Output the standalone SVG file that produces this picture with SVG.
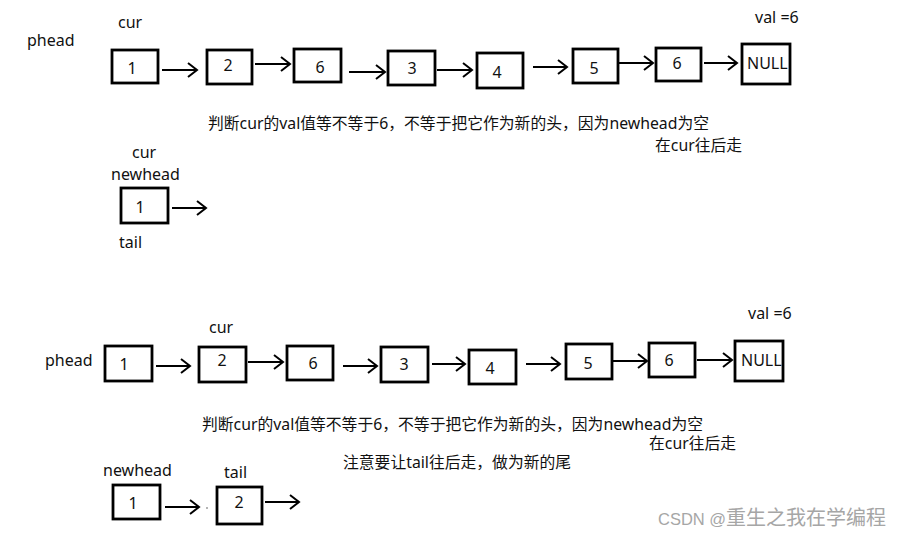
<svg xmlns="http://www.w3.org/2000/svg" width="904" height="538" viewBox="0 0 904 538">
<style>
.box{fill:#fff;stroke:#000;stroke-width:2.8}
.lbl{font-family:"Noto Sans","Noto Sans CJK SC",sans-serif;font-size:16px;fill:#111}
.num{font-family:"Noto Sans","Noto Sans CJK SC",sans-serif;font-size:16px;fill:#111;text-anchor:middle}
.zh{font-family:"Noto Sans","Noto Sans CJK SC",sans-serif;font-size:15.8px;fill:#111}
.arr{stroke:#000;stroke-width:2.2;fill:none;marker-end:url(#ah)}
.wm{font-family:"Liberation Sans","Noto Sans CJK SC",sans-serif;fill:#a6a6a6}
</style>
<defs>
<marker id="ah" markerUnits="userSpaceOnUse" markerWidth="14" markerHeight="18" refX="11" refY="8" orient="auto" overflow="visible">
<path d="M2,1 L11,8 L2,15" fill="none" stroke="#000" stroke-width="2"/>
</marker>
</defs>
<rect width="904" height="538" fill="#fff"/>

<!-- Top section -->
<g id="top-labels">
<text class="lbl" x="118" y="28">cur</text>
<text class="lbl" x="27" y="46">phead</text>
<text class="lbl" x="755" y="23">val =6</text>
</g>
<g id="t-n1"><rect class="box" x="112" y="50" width="46" height="33"/><text class="num" x="132" y="74">1</text></g>
<g id="t-n2"><rect class="box" x="207" y="50" width="45" height="34"/><text class="num" x="228" y="71">2</text></g>
<g id="t-n3"><rect class="box" x="294" y="49" width="47" height="33"/><text class="num" x="320" y="73">6</text></g>
<g id="t-n4"><rect class="box" x="388" y="51" width="47" height="34"/><text class="num" x="412" y="74">3</text></g>
<g id="t-n5"><rect class="box" x="477" y="53" width="46" height="35"/><text class="num" x="497" y="78">4</text></g>
<g id="t-n6"><rect class="box" x="573" y="49" width="45" height="34"/><text class="num" x="594" y="74">5</text></g>
<g id="t-n7"><rect class="box" x="656" y="48" width="45" height="33"/><text class="num" x="677" y="69">6</text></g>
<g id="t-null"><rect class="box" x="742" y="44" width="48" height="40"/><text class="lbl" x="747" y="69">NULL</text></g>
<text class="zh" x="208" y="129">判断cur的val值等不等于6，不等于把它作为新的头，因为newhead为空</text>
<text class="zh" x="655" y="151">在cur往后走</text>

<!-- Middle section -->
<g id="m-labels">
<text class="lbl" x="132" y="158">cur</text>
<text class="lbl" x="111" y="180">newhead</text>
<text class="lbl" x="119" y="248">tail</text>
</g>
<g id="m-n1"><rect class="box" x="121" y="188" width="47" height="35"/><text class="num" x="140" y="213">1</text></g>

<!-- Bottom section -->
<g id="b-labels">
<text class="lbl" x="209" y="333">cur</text>
<text class="lbl" x="45" y="366">phead</text>
<text class="lbl" x="748" y="319">val =6</text>
<text class="lbl" x="103" y="476">newhead</text>
<text class="lbl" x="224" y="478">tail</text>
</g>
<g id="b-n1"><rect class="box" x="105" y="346" width="47" height="35"/><text class="num" x="124" y="370">1</text></g>
<g id="b-n2"><rect class="box" x="199" y="347" width="47" height="35"/><text class="num" x="222" y="366">2</text></g>
<g id="b-n3"><rect class="box" x="287" y="346" width="46" height="34"/><text class="num" x="313" y="369">6</text></g>
<g id="b-n4"><rect class="box" x="381" y="347" width="47" height="35"/><text class="num" x="404" y="370">3</text></g>
<g id="b-n5"><rect class="box" x="469" y="350" width="47" height="34"/><text class="num" x="490" y="374">4</text></g>
<g id="b-n6"><rect class="box" x="566" y="344" width="46" height="35"/><text class="num" x="588" y="369">5</text></g>
<g id="b-n7"><rect class="box" x="649" y="343" width="46" height="34"/><text class="num" x="669" y="366">6</text></g>
<g id="b-null"><rect class="box" x="735" y="341" width="48" height="40"/><text class="lbl" x="741" y="366">NULL</text></g>
<text class="zh" x="202" y="430">判断cur的val值等不等于6，不等于把它作为新的头，因为newhead为空</text>
<text class="zh" x="649" y="449">在cur往后走</text>
<text class="zh" x="343" y="468">注意要让tail往后走，做为新的尾</text>
<g id="b2-n1"><rect class="box" x="113" y="485" width="47" height="34"/><text class="num" x="133" y="509">1</text></g>
<g id="b2-n2"><rect class="box" x="217" y="487" width="45" height="37"/><text class="num" x="239" y="508">2</text></g>
<circle cx="207" cy="508" r="0.8" fill="#555"/>

<g id="connectors">
<line class="arr" x1="162" y1="70" x2="197" y2="70"/>
<line class="arr" x1="255" y1="64" x2="290" y2="64"/>
<line class="arr" x1="349" y1="72" x2="385" y2="72"/>
<line class="arr" x1="437" y1="70" x2="472" y2="70"/>
<line class="arr" x1="533" y1="67" x2="567" y2="67"/>
<line class="arr" x1="618" y1="63" x2="653" y2="63"/>
<line class="arr" x1="704" y1="63" x2="737" y2="63"/>
<line class="arr" x1="172" y1="208" x2="206" y2="208"/>
<line class="arr" x1="156" y1="366" x2="190" y2="366"/>
<line class="arr" x1="248" y1="362" x2="283" y2="362"/>
<line class="arr" x1="343" y1="366" x2="377" y2="366"/>
<line class="arr" x1="432" y1="364" x2="465" y2="364"/>
<line class="arr" x1="526" y1="364" x2="560" y2="364"/>
<line class="arr" x1="612" y1="361" x2="647" y2="361"/>
<line class="arr" x1="697" y1="360" x2="732" y2="360"/>
<line class="arr" x1="165" y1="507" x2="199" y2="507"/>
<line class="arr" x1="265" y1="502" x2="299" y2="502"/>
</g>

<text class="wm" x="658" y="525" font-size="16.5">CSDN @<tspan font-size="20">重生之我在学编程</tspan></text>
</svg>
